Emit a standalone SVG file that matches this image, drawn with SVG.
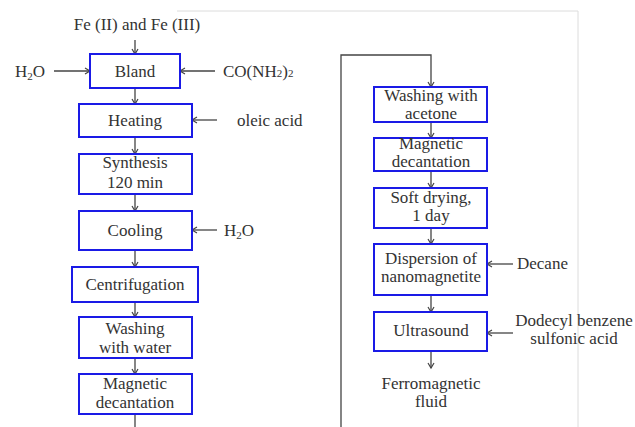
<svg xmlns="http://www.w3.org/2000/svg" width="635" height="427" viewBox="0 0 635 427">
<defs>
<style>
text{font-family:"Liberation Serif","Times New Roman",serif;font-size:17px;fill:#333}
.t{text-anchor:middle}
.box{fill:#fff;stroke:#1a1ae6;stroke-width:2}
.c{fill:none;stroke:#444;stroke-width:1.3;marker-end:url(#ah)}
.l{fill:none;stroke:#444;stroke-width:1.3}
.frame{fill:none;stroke:#dcdcdc;stroke-width:1}
</style>
<marker id="ah" markerWidth="8" markerHeight="8" refX="6" refY="4" orient="auto" markerUnits="userSpaceOnUse">
<path d="M1,1 L6,4 L1,7" fill="none" stroke="#444" stroke-width="1.2"/>
</marker>
</defs>
<rect width="635" height="427" fill="#fff"/>
<path class="frame" d="M177,11 H578 V427"/>
<g id="connectors">
<path class="c" d="M135,40 V54"/>
<path class="c" d="M54,71 H90"/>
<path class="c" d="M215,71 H180"/>
<path class="c" d="M135,88 V104"/>
<path class="c" d="M217,120 H192"/>
<path class="c" d="M135,137 V154"/>
<path class="c" d="M135,194 V211"/>
<path class="c" d="M217,230 H192"/>
<path class="c" d="M135,250 V267"/>
<path class="c" d="M135,302 V317"/>
<path class="c" d="M135,358 V374"/>
<path class="l" d="M135,414 V427"/>
<path class="c" d="M341,427 V55 H431 V87"/>
<path class="c" d="M431,122 V138"/>
<path class="c" d="M431,171 V188"/>
<path class="c" d="M431,228 V244"/>
<path class="c" d="M513,264 H487"/>
<path class="c" d="M431,295 V312"/>
<path class="c" d="M513,333 H487"/>
<path class="c" d="M431,351 V368"/>
</g>
<g id="fe"><text class="t" x="137" y="30">Fe (II) and Fe (III)</text></g>
<g id="h2o1"><text x="15" y="77">H<tspan font-size="11" dy="3">2</tspan><tspan dy="-3">O</tspan></text></g>
<g id="urea"><text x="223" y="77">CO(NH<tspan font-size="11">2</tspan>)<tspan font-size="11">2</tspan></text></g>
<g id="bland"><rect class="box" x="90" y="54" width="90" height="34"/><text class="t" x="135" y="77">Bland</text></g>
<g id="heating"><rect class="box" x="79" y="104" width="113" height="33"/><text class="t" x="135" y="126">Heating</text></g>
<g id="oleic"><text x="237" y="126">oleic acid</text></g>
<g id="synthesis"><rect class="box" x="79" y="154" width="113" height="40"/><text class="t" x="135" y="168">Synthesis</text><text class="t" x="135" y="188">120 min</text></g>
<g id="cooling"><rect class="box" x="79" y="211" width="113" height="39"/><text class="t" x="135" y="236">Cooling</text></g>
<g id="h2o2"><text x="224" y="236">H<tspan font-size="11" dy="3">2</tspan><tspan dy="-3">O</tspan></text></g>
<g id="centrifugation"><rect class="box" x="72" y="267" width="126" height="35"/><text class="t" x="135" y="290">Centrifugation</text></g>
<g id="washwater"><rect class="box" x="79" y="317" width="113" height="41"/><text class="t" x="135" y="334">Washing</text><text class="t" x="135" y="353">with water</text></g>
<g id="magdec1"><rect class="box" x="79" y="374" width="113" height="40"/><text class="t" x="135" y="389">Magnetic</text><text class="t" x="135" y="408">decantation</text></g>
<g id="washacetone"><rect class="box" x="374" y="87" width="113" height="35"/><text class="t" x="431" y="101">Washing with</text><text class="t" x="431" y="119">acetone</text></g>
<g id="magdec2"><rect class="box" x="374" y="138" width="113" height="33"/><text class="t" x="431" y="149">Magnetic</text><text class="t" x="431" y="167">decantation</text></g>
<g id="softdry"><rect class="box" x="374" y="188" width="113" height="40"/><text class="t" x="431" y="203">Soft drying,</text><text class="t" x="431" y="221">1 day</text></g>
<g id="dispersion"><rect class="box" x="374" y="244" width="113" height="51"/><text class="t" x="431" y="264">Dispersion of</text><text class="t" x="431" y="282">nanomagnetite</text></g>
<g id="decane"><text x="517" y="269">Decane</text></g>
<g id="ultrasound"><rect class="box" x="374" y="312" width="113" height="39"/><text class="t" x="431" y="336">Ultrasound</text></g>
<g id="ddbsa"><text class="t" x="574" y="326">Dodecyl benzene</text><text class="t" x="574" y="344">sulfonic acid</text></g>
<g id="ferro"><text class="t" x="431" y="389">Ferromagnetic</text><text class="t" x="431" y="407">fluid</text></g>
</svg>
